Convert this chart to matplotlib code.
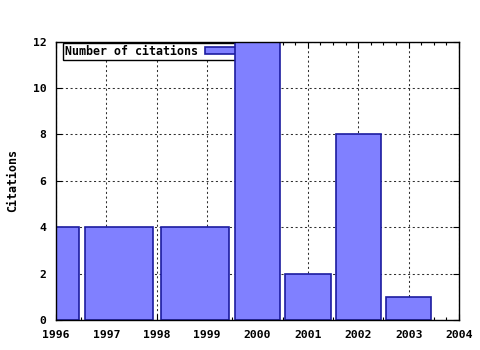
import numpy as np
import matplotlib
matplotlib.use('Agg')
import matplotlib.pyplot as plt
from matplotlib.ticker import MultipleLocator

# data
years = [1996, 1997, 1999, 2000, 2001, 2002, 2003]
citations = [4, 4, 4, 12, 2, 8, 1]
series_label = 'Number of citations'

# boxes span midpoint to midpoint of neighbouring years, scaled to 0.9 (gnuplot style)
x = np.array(years, dtype=float)
mids = (x[:-1] + x[1:]) / 2
lo = np.concatenate([[x[0] - (mids[0] - x[0])], mids])
hi = np.concatenate([mids, [x[-1] + (x[-1] - mids[-1])]])
centers = (lo + hi) / 2
widths = (hi - lo) * 0.9

plt.rcParams['font.family'] = 'DejaVu Sans Mono'
plt.rcParams['font.weight'] = 'bold'
plt.rcParams['font.size'] = 8

fig = plt.figure(figsize=(4.8, 3.5), dpi=100)
ax = fig.add_axes([56/480, 30/350, 403/480, 278.5/350])

ax.bar(centers, citations, width=widths, color='#8080ff', edgecolor='#1c1ca0',
       linewidth=1.2, label=series_label, zorder=3)

ax.set_xlim(1996, 2004)
ax.set_ylim(0, 12)
ax.xaxis.set_major_locator(MultipleLocator(1))
ax.xaxis.set_minor_locator(MultipleLocator(0.25))
ax.yaxis.set_major_locator(MultipleLocator(2))

ax.grid(True, which='major', color='#303030', linestyle=(0, (2, 2.5)), linewidth=0.75)
ax.set_axisbelow(True)

ax.tick_params(which='both', direction='in', top=True, right=True, width=0.8)
ax.tick_params(which='major', length=4, pad=7, labelsize=8.2)
ax.tick_params(which='minor', length=2)
for s in ax.spines.values():
    s.set_linewidth(1)
    s.set_zorder(4)

ax.set_ylabel('Citations', fontweight='bold', fontsize=8.4)
ax.yaxis.set_label_coords(-0.091, 0.5)

leg = ax.legend(loc='upper left', bbox_to_anchor=(7/403, 1 - 1.5/278.5),
                markerfirst=False, frameon=True, fancybox=False, borderpad=0.15,
                handlelength=2.9, handleheight=0.5, handletextpad=0.6,
                borderaxespad=0, prop={'family': 'DejaVu Sans Mono', 'weight': 'bold', 'size': 8.4})
leg.get_frame().set_edgecolor('black')
leg.get_frame().set_linewidth(1)
leg.get_frame().set_alpha(1)
leg.set_zorder(2)

fig.savefig('out.png', dpi=100)
